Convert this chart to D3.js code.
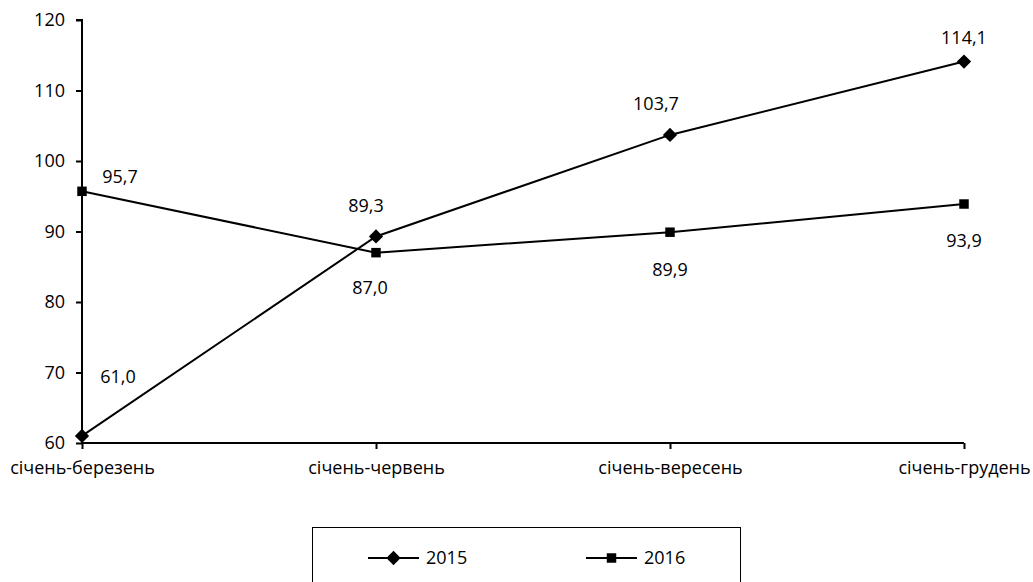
<!DOCTYPE html>
<html><head><meta charset="utf-8">
<script src="https://cdn.jsdelivr.net/npm/d3@7"></script>
<style>body{margin:0;background:#fff;} svg{display:block;} text{font-family:"Open Sans", sans-serif; font-size:18px; fill:#000;}</style>
</head><body>
<svg id="c" width="1033" height="582"></svg>
<script>
const categories = ["січень-березень","січень-червень","січень-вересень","січень-грудень"];
const series2015 = [61.0, 89.3, 103.7, 114.1];
const series2016 = [95.7, 87.0, 89.9, 93.9];
const labels2015 = ["61,0","89,3","103,7","114,1"];
const labels2016 = ["95,7","87,0","89,9","93,9"];
const yTicks = [60,70,80,90,100,110,120];
const seriesNames = ["2015","2016"];

const svg = d3.select("#c");
const x = d3.scalePoint().domain(categories).range([82, 964]);
const y = d3.scaleLinear().domain([60,120]).range([443, 20]);

// y axis
const yAxis = svg.append("g").attr("transform","translate(82,0)")
  .call(d3.axisLeft(y).tickValues(yTicks).tickSize(6).tickPadding(11).tickFormat(d3.format("d")));
yAxis.select(".domain").attr("stroke","#000").attr("stroke-width",2).attr("d","M-6,20H0V443");
yAxis.selectAll(".tick line").attr("stroke","#000").attr("stroke-width",2);
yAxis.selectAll(".tick text").style("font-size","18px").attr("font-family",null);

// x axis
const xAxis = svg.append("g").attr("transform","translate(0,443)")
  .call(d3.axisBottom(x).tickSize(6).tickPadding(12));
xAxis.select(".domain").attr("stroke","#000").attr("stroke-width",2).attr("d","M82,0H964");
xAxis.selectAll(".tick line").attr("stroke","#000").attr("stroke-width",2);
xAxis.selectAll(".tick text").style("font-size","18px").attr("font-family",null);

const line = d3.line().x((d,i)=>x(categories[i])).y(d=>y(d));
svg.append("path").datum(series2015).attr("d",line).attr("fill","none").attr("stroke","#000").attr("stroke-width",2);
svg.append("path").datum(series2016).attr("d",line).attr("fill","none").attr("stroke","#000").attr("stroke-width",2);

const diamond = d3.symbol().type(d3.symbolDiamond2).size(130);
const square = d3.symbol().type(d3.symbolSquare).size(90);
svg.selectAll(".m15").data(series2015).join("path")
  .attr("transform",(d,i)=>`translate(${x(categories[i])},${y(d)})`).attr("d",diamond).attr("fill","#000");
svg.selectAll(".m16").data(series2016).join("path")
  .attr("transform",(d,i)=>`translate(${x(categories[i])},${y(d)})`).attr("d",square).attr("fill","#000");

// data labels
const off15 = [[36,-59],[-10,-31],[-14,-31],[0,-24]];
const off16 = [[38,-15],[-6,35],[0,37],[0,37]];
svg.selectAll(".l15").data(series2015).join("text")
  .attr("x",(d,i)=>x(categories[i])+off15[i][0]).attr("y",(d,i)=>y(d)+off15[i][1])
  .attr("text-anchor","middle").attr("dy","0.35em").text((d,i)=>labels2015[i]);
svg.selectAll(".l16").data(series2016).join("text")
  .attr("x",(d,i)=>x(categories[i])+off16[i][0]).attr("y",(d,i)=>y(d)+off16[i][1])
  .attr("text-anchor","middle").attr("dy","0.35em").text((d,i)=>labels2016[i]);

// legend
svg.append("rect").attr("x",312.5).attr("y",527.5).attr("width",428).attr("height",80)
  .attr("fill","#fff").attr("stroke","#000").attr("stroke-width",1);
const lg = [{x:368, sym:diamond},{x:586, sym:square}];
lg.forEach((l,i)=>{
  svg.append("line").attr("x1",l.x).attr("x2",l.x+51).attr("y1",558).attr("y2",558).attr("stroke","#000").attr("stroke-width",2);
  svg.append("path").attr("transform",`translate(${l.x+25.5},558)`).attr("d",l.sym).attr("fill","#000");
  svg.append("text").attr("x",l.x+58).attr("y",558).attr("dy","0.35em").text(seriesNames[i]);
});
</script>
</body></html>
